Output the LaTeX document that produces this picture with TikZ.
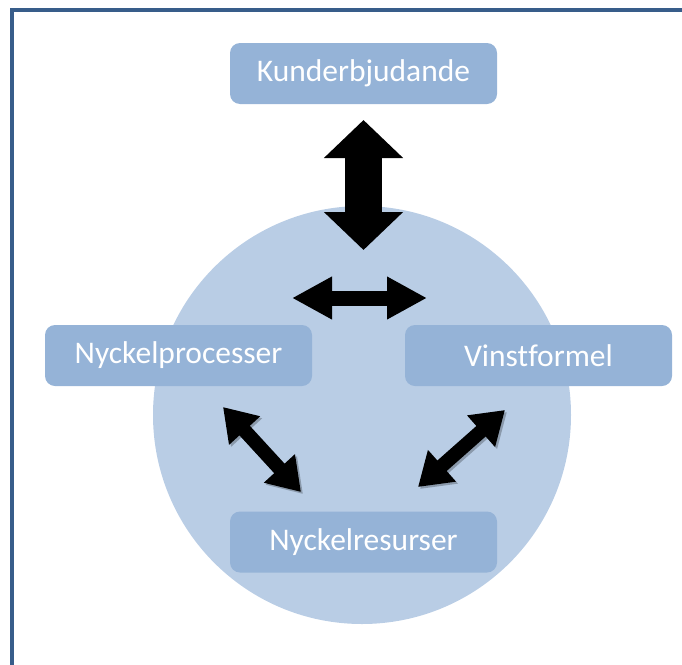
\documentclass[tikz,border=0pt]{standalone}
\usepackage{fontspec}
\setmainfont{Carlito}[Ligatures=NoCommon]
\usetikzlibrary{positioning,arrows.meta}
\definecolor{framecol}{RGB}{56,93,138}
\definecolor{discfill}{RGB}{185,205,229}
\definecolor{boxfill}{RGB}{149,179,215}
\tikzset{
  blockbox/.style={fill=boxfill, rounded corners=10pt, minimum width=267pt, minimum height=61pt, inner sep=0pt, text=white, font=\fontsize{31.5}{37}\selectfont},
  bigarrow/.style={line width=37pt, {Triangle[length=38pt,width=77pt]}-{Triangle[length=38pt,width=77pt]}},
  smallarrow/.style={line width=15pt, {Triangle[length=40pt,width=40pt]}-{Triangle[length=40pt,width=40pt]}},
  slantarrow/.style={line width=14pt, {Triangle[length=32pt,width=40pt]}-{Triangle[length=32pt,width=40pt]}},
  slantshadow/.style={slantarrow, black, opacity=0.25, transform canvas={shift={(2pt,-2pt)}}}
}

\begin{document}
\begin{tikzpicture}[x=1pt, y=-1pt]
  \useasboundingbox (0,0) rectangle (682,664);
  \begin{scope}
    \clip (0,0) rectangle (682,664);
    \draw[framecol, line width=4pt] (12,700) -- (12,10) -- (720,10);
  \end{scope}
  \node[circle, fill=discfill, minimum size=418pt, inner sep=0pt] (core) at (362,415) {};
  \node[blockbox] (kund) at (363.5,73.5) {Kunderbjudande};
  \node[blockbox] (proc) at (178.5,355.5) {Nyckelprocesser};
  \node[blockbox] (vinst) at (538.5,355.5) {Vinstformel};
  \node[blockbox] (res) at (363.5,542) {Nyckelresurser};
  % arrow end points
  \coordinate (vtop) at (363.5,120);
  \coordinate (vbot) at (363.5,250);
  \coordinate (hleft) at (292,298);
  \coordinate (hright) at (427,298);
  \coordinate (ltop) at (223,407);
  \coordinate (lbot) at (301,492);
  \coordinate (rtop) at (505,410);
  \coordinate (rbot) at (418,487);
  \draw[bigarrow] (vtop) -- (vbot);
  \draw[smallarrow] (hleft) -- (hright);
  \draw[slantshadow] (ltop) -- (lbot);
  \draw[slantshadow] (rtop) -- (rbot);
  \draw[slantarrow] (ltop) -- (lbot);
  \draw[slantarrow] (rtop) -- (rbot);
\end{tikzpicture}
\end{document}
